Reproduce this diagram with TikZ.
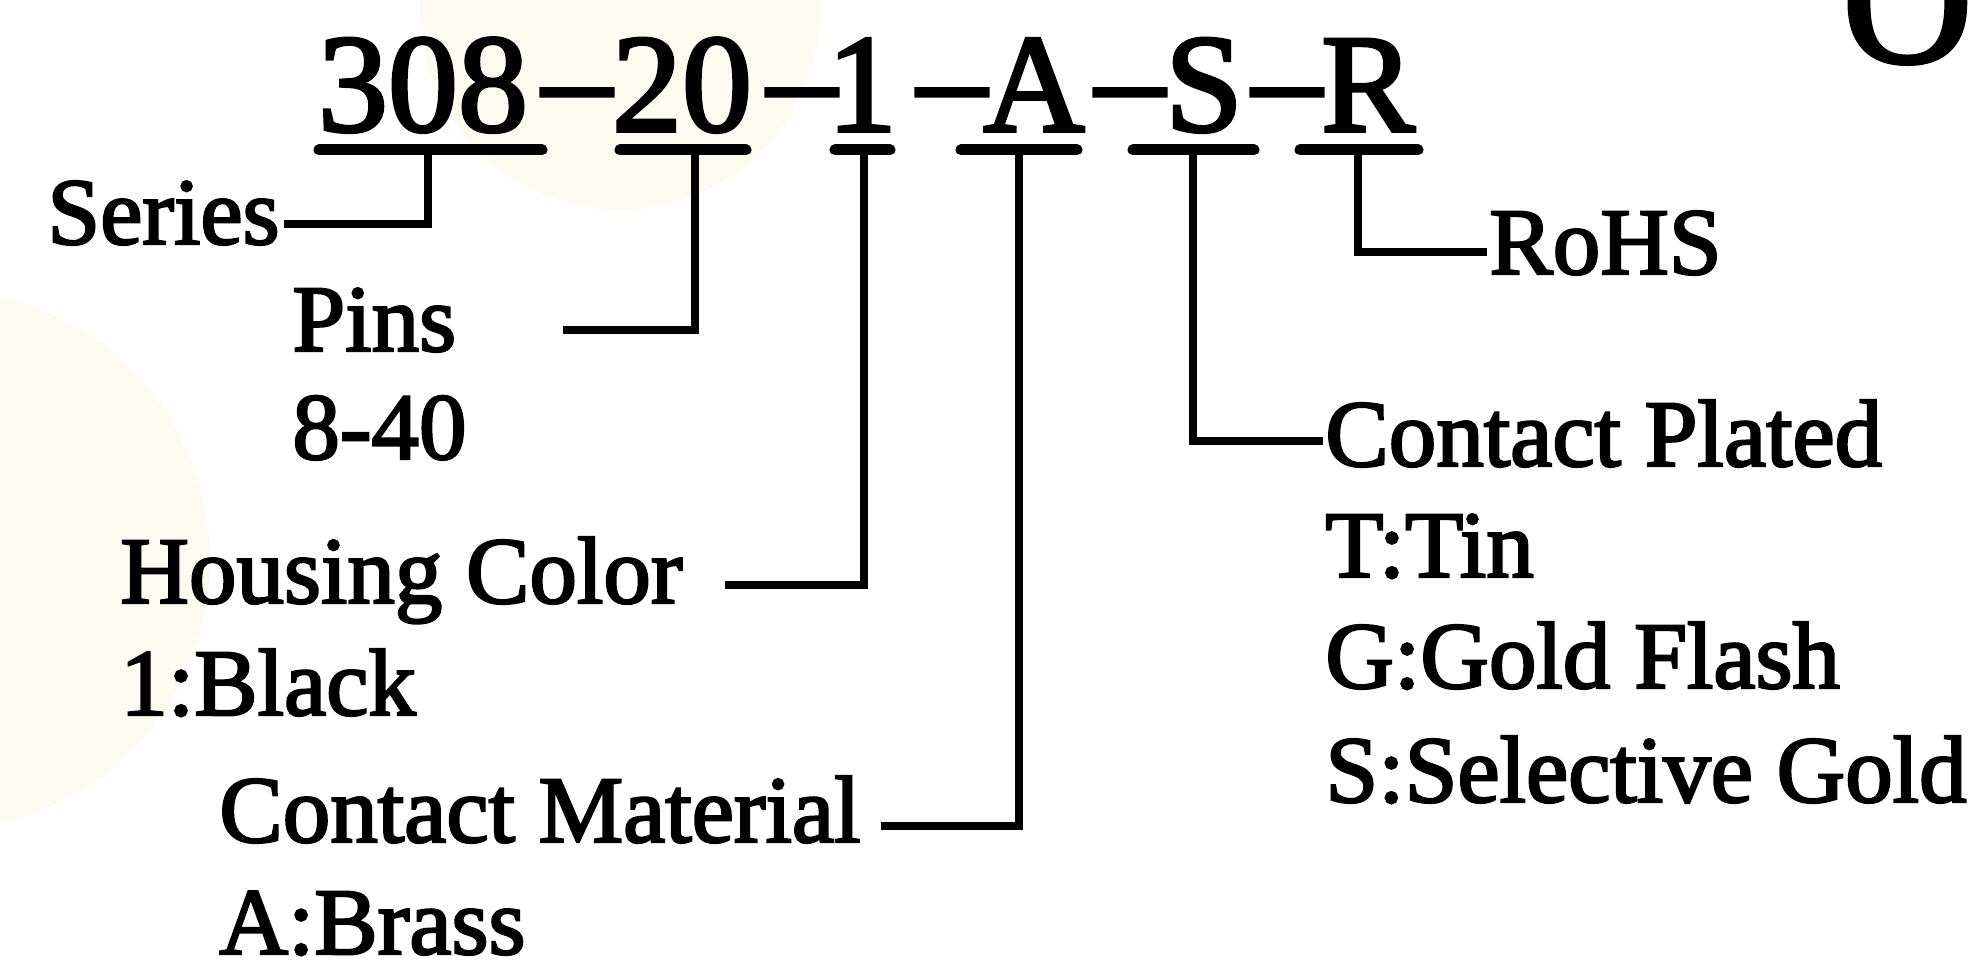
\documentclass[tikz,border=0pt]{standalone}
\usepackage{fontspec}
\setmainfont{Liberation Serif}
\newfontfamily\heavyserif{Liberation Serif}[FakeBold=2.5]
\usetikzlibrary{positioning}
\definecolor{cream}{RGB}{253,251,240}

\begin{document}
\begin{tikzpicture}[x=0.5pt, y=-0.5pt,
  partno/.style={anchor=base, inner sep=0pt, font=\heavyserif\fontsize{70}{84}\selectfont},
  desc/.style={anchor=base west, inner sep=0pt, font=\heavyserif\fontsize{47.5}{57}\selectfont},
  uline/.style={line width=5.5pt, line cap=round},
  lead/.style={line width=4pt}]
\useasboundingbox (0,0) rectangle (1977,968);
\fill[cream] (620,10) circle[radius=100pt];
\fill[cream] (-60,560) circle[radius=135pt];

% part number
\node[partno] (p308) at (423,131) {308};
\node[partno] (d1) at (577,125) {–};
\node[partno] (p20) at (682,131) {20};
\node[partno] (d2) at (802,125) {–};
\node[partno] (p1) at (862,131) {1};
\node[partno] (d3) at (952,125) {–};
\node[partno] (pA) at (1034,131) {A};
\node[partno] (d4) at (1130,125) {–};
\node[partno] (pS) at (1204,131) {S};
\node[partno] (d5) at (1287,125) {–};
\node[partno] (pR) at (1368,131) {R};
\node[anchor=base west, inner sep=0pt, font=\heavyserif\fontsize{90}{100}\selectfont] (ordering) at (1842,62) {O};

% underlines and tap points
\foreach \n/\a/\b/\t in {308/319/542/428, 20/620/746/695, 1/835/890/864,
    A/961/1077/1019, S/1133/1254/1193, R/1300/1418/1358} {
  \draw[uline] (\a,150) -- (\b,150);
  \coordinate (t\n) at (\t,150);
}

% fields
\node[desc] (series) at (47,244) {Series};
\node[desc] (pins) at (292,351) {Pins};
\node[desc] (pinsval) at (292,459) {8-40};
\node[desc] (housing) at (120,603) {Housing Color};
\node[desc] (housingval) at (120,715) {1:Black};
\node[desc] (material) at (219,842) {Contact Material};
\node[desc] (materialval) at (219,954) {A:Brass};
\node[desc] (rohs) at (1489,274) {RoHS};
\node[desc] (plated) at (1325,466) {Contact Plated};
\node[desc] (platedT) at (1325,577) {T:Tin};
\node[desc] (platedG) at (1325,688) {G:Gold Flash};
\node[desc] (platedS) at (1325,802) {S:Selective Gold};

\draw[lead] (t308) |- ([xshift=2pt,yshift=10pt]series.base east);
\draw[lead] (t20) |- ([xshift=53pt,yshift=10.5pt]pins.base east);
\draw[lead] (t1) |- ([xshift=21pt,yshift=9pt]housing.base east);
\draw[lead] (tA) |- ([xshift=10pt,yshift=8pt]material.base east);
\draw[lead] (tS) |- ([xshift=-1pt,yshift=12.5pt]plated.base west);
\draw[lead] (tR) |- ([xshift=-1pt,yshift=11pt]rohs.base west);
\end{tikzpicture}
\end{document}
